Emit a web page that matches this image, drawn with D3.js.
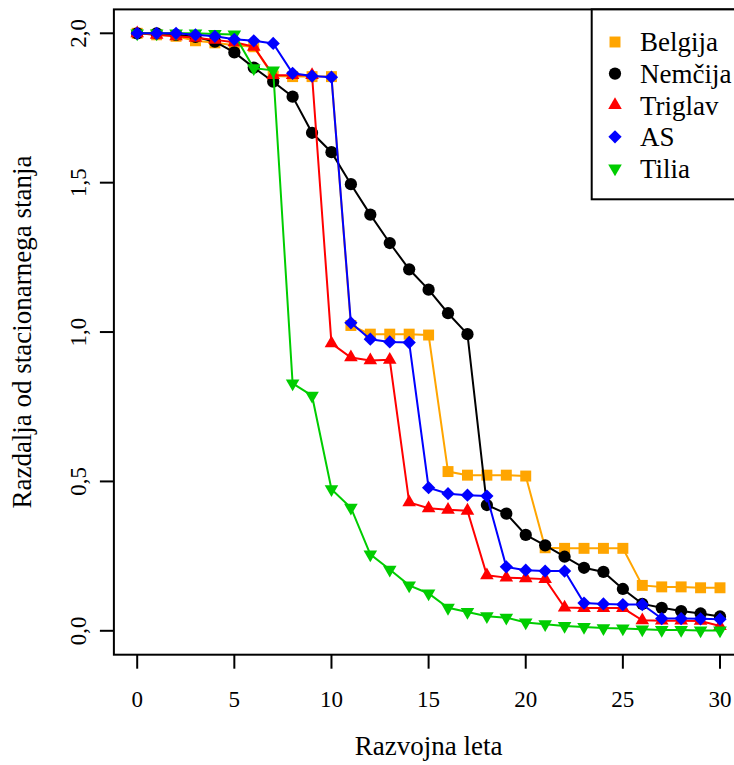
<!DOCTYPE html>
<html>
<head>
<meta charset="utf-8">
<script src="https://cdn.jsdelivr.net/npm/d3@7"></script>
<style>
  body { margin: 0; background: #fff; }
</style>
</head>
<body>
<div id="chart"></div>
<script>
// development years
const years = [0,1,2,3,4,5,6,7,8,9,10,11,12,13,14,15,16,17,18,19,20,21,22,23,24,25,26,27,28,29,30]

const belgija = [2.00,1.995,1.99,1.975,1.968,1.96,1.955,1.857,1.855,1.855,1.855,1.022,0.993,0.993,0.993,0.99,0.533,0.521,0.521,0.521,0.518,0.278,0.276,0.276,0.276,0.276,0.152,0.147,0.147,0.144,0.144]
const nemcija = [2.00,2.00,1.995,1.988,1.972,1.936,1.885,1.838,1.788,1.667,1.602,1.495,1.393,1.298,1.21,1.142,1.063,0.993,0.421,0.392,0.321,0.286,0.248,0.211,0.197,0.14,0.09,0.077,0.066,0.058,0.048]
const triglav = [2.00,1.995,1.99,1.985,1.978,1.97,1.955,1.86,1.86,1.86,0.962,0.915,0.905,0.907,0.43,0.41,0.405,0.402,0.186,0.178,0.176,0.173,0.078,0.076,0.076,0.076,0.035,0.034,0.034,0.033,0.016]
const as = [2.00,2.00,2.00,1.995,1.99,1.98,1.975,1.966,1.866,1.857,1.853,1.031,0.976,0.967,0.965,0.479,0.459,0.454,0.451,0.214,0.203,0.2,0.2,0.093,0.09,0.088,0.088,0.041,0.041,0.04,0.039]
const tilia = [2.00,2.00,2.00,2.00,1.998,1.996,1.883,1.876,0.828,0.787,0.474,0.412,0.256,0.205,0.152,0.125,0.077,0.063,0.049,0.044,0.028,0.022,0.016,0.013,0.009,0.008,0.005,0.003,0.003,0.001,0.001]

const xTicks = [0,5,10,15,20,25,30]
const yTicks = [0,0.5,1,1.5,2]

const seriesNames = ["Belgija","Nemčija","Triglav","AS","Tilia"]
const seriesValues = [belgija, nemcija, triglav, as, tilia]
const colors = ["#FFA500","#000000","#FF0000","#0000FF","#00CD00"]
const shapes = ["square","circle","triangle","diamond","down"]
const drawOrder = [0,1,2,4,3]

const W = 734, H = 765
const serif = "'Liberation Serif', 'Times New Roman', Times, 'DejaVu Serif', serif"

const x = d3.scaleLinear().domain([0,30]).range([137.2,720])
const y = d3.scaleLinear().domain([0,2]).range([630.8,33.3])

// R style 4% padding around data range
const x0 = x(-1.2), x1 = x(31.2)
const y0 = y(-0.08), y1 = y(2.08)

const svg = d3.select("#chart").append("svg")
    .attr("width", W)
    .attr("height", H)
    .style("font-family", serif)

function symbolPath(shape){
    if (shape == "square") return d3.symbol(d3.symbolSquare, 120)()
    if (shape == "circle") return d3.symbol(d3.symbolCircle, 118)()
    if (shape == "diamond") return d3.symbol(d3.symbolSquare, 88)()
    return d3.symbol(d3.symbolTriangle, 80)()
}
function symbolRotate(shape){
    if (shape == "diamond") return 45
    if (shape == "down") return 180
    return 0
}

const plot = svg.append("g")

const line = d3.line()
    .x((d,i) => x(years[i]))
    .y(d => y(d))

drawOrder.forEach(k => {
    const g = plot.append("g").attr("class","series")
    g.append("path")
        .datum(seriesValues[k])
        .attr("fill","none")
        .attr("stroke", colors[k])
        .attr("stroke-width", 2)
        .attr("d", line)
    g.selectAll("path.pt")
        .data(seriesValues[k])
        .enter().append("path")
        .attr("class","pt")
        .attr("d", symbolPath(shapes[k]))
        .attr("transform", (d,i) => `translate(${x(years[i])},${y(d)}) rotate(${symbolRotate(shapes[k])})`)
        .attr("fill", colors[k])
})

// box
svg.append("rect")
    .attr("x", x0).attr("y", y1)
    .attr("width", x1 - x0).attr("height", y0 - y1)
    .attr("fill","none").attr("stroke","#000").attr("stroke-width",2)

// x axis
const xAxis = svg.append("g").attr("class","axis x-axis")
xAxis.selectAll("line").data(xTicks).enter().append("line")
    .attr("x1", d => x(d)).attr("x2", d => x(d))
    .attr("y1", y0).attr("y2", y0 + 14)
    .attr("stroke","#000").attr("stroke-width",2)
xAxis.selectAll("text").data(xTicks).enter().append("text")
    .attr("x", d => x(d)).attr("y", 707)
    .attr("text-anchor","middle")
    .attr("font-family", serif)
    .attr("font-size", 23)
    .text(d => d)

// y axis
const fmt = d => d.toFixed(1).replace(".", ",")
const yAxis = svg.append("g").attr("class","axis y-axis")
yAxis.selectAll("line").data(yTicks).enter().append("line")
    .attr("x1", x0).attr("x2", x0 - 14)
    .attr("y1", d => y(d)).attr("y2", d => y(d))
    .attr("stroke","#000").attr("stroke-width",2)
yAxis.selectAll("text").data(yTicks).enter().append("text")
    .attr("transform", d => `translate(86,${y(d)}) rotate(-90)`)
    .attr("text-anchor","middle")
    .attr("font-family", serif)
    .attr("font-size", 23)
    .text(fmt)

// axis titles
svg.append("text")
    .attr("x", (x0 + x1) / 2).attr("y", 755)
    .attr("text-anchor","middle")
    .attr("font-family", serif)
    .attr("font-size", 27)
    .text("Razvojna leta")

svg.append("text")
    .attr("transform", `translate(31,${(y0 + y1) / 2}) rotate(-90)`)
    .attr("text-anchor","middle")
    .attr("font-family", serif)
    .attr("font-size", 27)
    .text("Razdalja od stacionarnega stanja")

// legend
const lg = svg.append("g").attr("class","legend")
lg.append("rect")
    .attr("x", 591.7).attr("y", y1)
    .attr("width", x1 - 591.7).attr("height", 199.3 - y1)
    .attr("fill","#fff").attr("stroke","#000").attr("stroke-width",2)

seriesNames.forEach((name, k) => {
    const ly = 42 + k * 31.6
    lg.append("path")
        .attr("d", symbolPath(shapes[k]))
        .attr("transform", `translate(615,${ly}) rotate(${symbolRotate(shapes[k])})`)
        .attr("fill", colors[k])
    lg.append("text")
        .attr("x", 640).attr("y", ly)
        .attr("dy", "0.35em")
        .attr("font-family", serif)
        .attr("font-size", 27)
        .text(name)
})
</script>
</body>
</html>
